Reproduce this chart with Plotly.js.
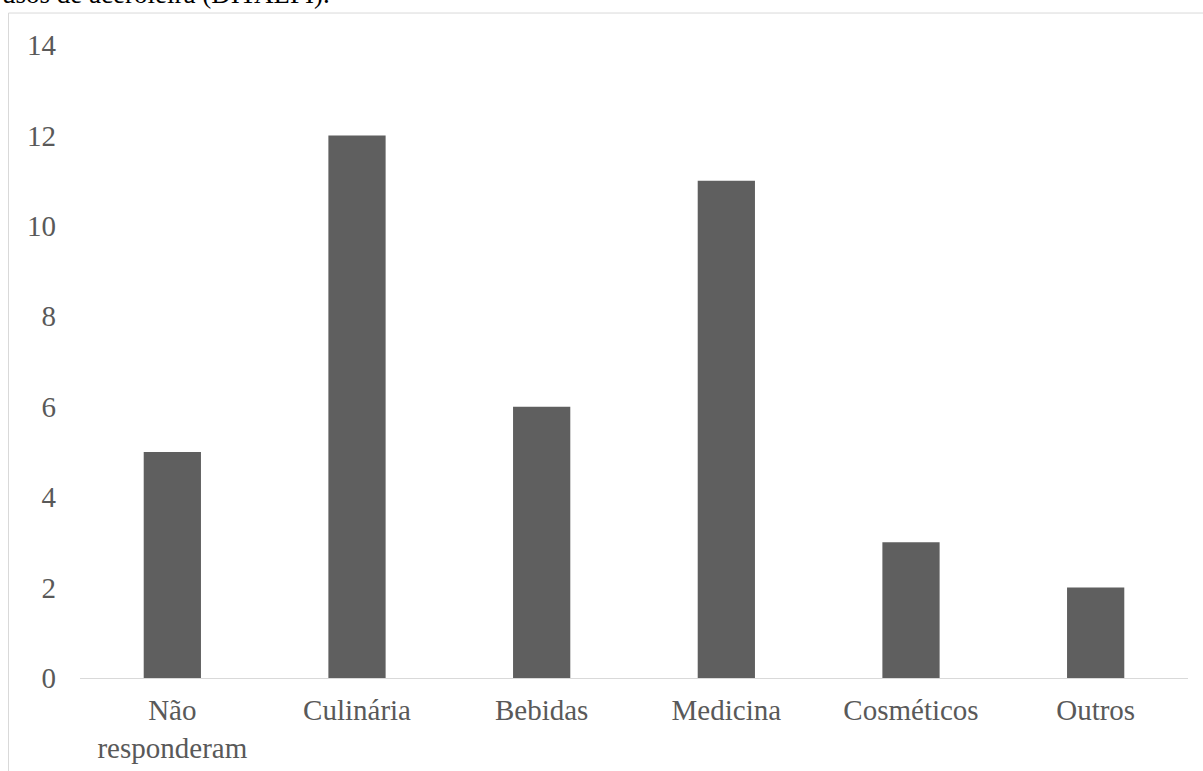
<!DOCTYPE html>
<html>
<head>
<meta charset="utf-8">
<script src="https://cdn.plot.ly/plotly-3.0.1.min.js"></script>
<style>
  html, body { margin: 0; padding: 0; background: #ffffff; }
  #chart { width: 1203px; height: 771px; }
</style>
</head>
<body>
<div id="chart"></div>
<script>
// Usos da aceroleira citados pelos entrevistados
const categorias = ["Não<br>responderam", "Culinária", "Bebidas", "Medicina", "Cosméticos", "Outros"];
const respostas = [5, 12, 6, 11, 3, 2];
const yTicks = [0, 2, 4, 6, 8, 10, 12, 14];
const legendaTopo = "usos de aceroleira (DITALPI).";

const W = 1203, H = 771;
const mL = 80, mR = 15, mT = 44.5, mB = 93;
const pw = W - mL - mR, ph = H - mT - mB;
// pixel -> paper helpers for the frame lines
const px = x => (x - mL) / pw;
const py = y => 1 - (y - mT) / ph;

const fontFam = "Liberation Serif, Times New Roman, serif";
const tickSize = 29;

const trace = {
  type: "bar",
  x: categorias,
  y: respostas,
  marker: { color: "#5f5f5f", line: { width: 0 } },
  width: 0.31,
  hoverinfo: "x+y"
};

const layout = {
  width: W,
  height: H,
  margin: { l: mL, r: mR, t: mT, b: mB, pad: 0 },
  paper_bgcolor: "#ffffff",
  plot_bgcolor: "#ffffff",
  showlegend: false,
  font: { family: fontFam, size: tickSize, color: "#595959" },
  xaxis: {
    type: "category",
    showgrid: false,
    zeroline: false,
    showline: true,
    linecolor: "#d9d9d9",
    linewidth: 1,
    ticks: "",
    ticklabelstandoff: 6,
    tickfont: { family: fontFam, size: tickSize, color: "#595959" },
    fixedrange: true
  },
  yaxis: {
    range: [0, 14],
    tickvals: yTicks,
    ticktext: yTicks.map(String),
    showgrid: false,
    zeroline: false,
    showline: false,
    ticks: "",
    ticklabelstandoff: 23,
    tickfont: { family: fontFam, size: tickSize, color: "#595959" },
    fixedrange: true
  },
  shapes: [
    { type: "line", xref: "paper", yref: "paper", x0: px(8.5), x1: px(8.5), y0: py(12.5), y1: py(H + 5),
      line: { color: "#d9d9d9", width: 1 } },
    { type: "line", xref: "paper", yref: "paper", x0: px(8.5), x1: px(W + 5), y0: py(12.5), y1: py(12.5),
      line: { color: "#d9d9d9", width: 1 } }
  ],
  annotations: [
    { text: legendaTopo, xref: "paper", yref: "paper", x: px(0), y: py(10), xanchor: "left", yanchor: "bottom",
      showarrow: false, font: { family: fontFam, size: 27, color: "#000000" } }
  ]
};

Plotly.newPlot("chart", [trace], layout, { displayModeBar: false, staticPlot: true });
</script>
</body>
</html>
